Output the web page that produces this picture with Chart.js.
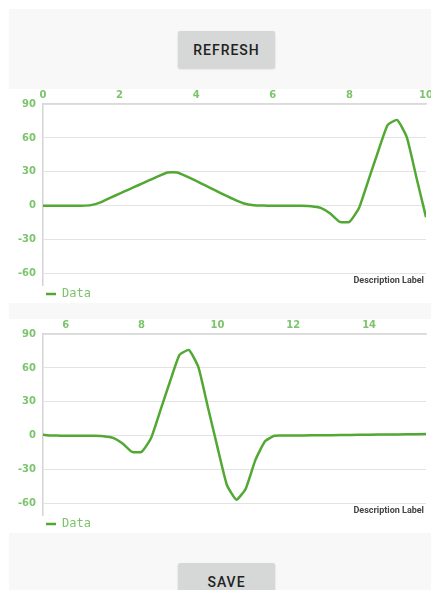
<!DOCTYPE html>
<html>
<head>
<meta charset="utf-8">
<script src="https://cdn.jsdelivr.net/npm/chart.js@4.4.1/dist/chart.umd.min.js"></script>
<style>
  html, body { margin: 0; padding: 0; background: #fff; width: 431px; height: 590px; overflow: hidden; }
  .panel { position: absolute; left: 9px; width: 422px; background: #f8f8f8; }
  .btn {
    position: absolute; left: 178px; width: 97px; height: 37px;
    background: #d6d7d7; border-radius: 2px;
    box-shadow: 0 1px 2px rgba(0,0,0,0.18);
    font: 500 14px Roboto, sans-serif; letter-spacing: 1px; color: #222;
    display: flex; align-items: center; justify-content: center;
  }
  .box { position: absolute; left: 0; width: 431px; }
</style>
</head>
<body>
<div class="panel" style="top:9px;height:80px"></div>
<div class="btn" style="top:31px">REFRESH</div>

<div class="box" style="top:89px;height:214px"><canvas id="chartTop"></canvas></div>

<div class="panel" style="top:303px;height:16px"></div>

<div class="box" style="top:319px;height:214px"><canvas id="chartBottom"></canvas></div>

<div class="panel" style="top:533px;height:60px"></div>
<div class="btn" style="top:563px">SAVE</div>

<script>
// dane wykresu (ten sam przebieg na obu wykresach, inne okno osi X)
const xValues = [0, 0.25, 0.5, 0.75, 1, 1.25, 1.5, 1.75, 2, 2.25, 2.5, 2.75, 3, 3.25, 3.5, 3.75,
  4, 4.25, 4.5, 4.75, 5, 5.25, 5.5, 5.75, 6, 6.25, 6.5, 6.75, 7, 7.25, 7.5, 7.75,
  8, 8.25, 8.5, 8.75, 9, 9.25, 9.5, 9.75, 10, 10.25, 10.5, 10.75, 11, 11.25, 11.5, 11.75,
  12, 12.5, 13, 13.5, 14, 14.5, 15, 15.5];
const yValues = [0, 0, 0, 0, 0.1, 0.6, 3, 7, 10.8, 14.6, 18.4, 22.2, 26, 29.5, 29.5, 26,
  22, 17.8, 13.6, 9.4, 5.4, 2.0, 0.5, 0.2, 0.1, 0.1, 0.1, 0, -0.3, -1.8, -6.8, -14.2,
  -14.2, -2, 23, 48, 71.5, 75.8, 60.5, 25, -10, -43.5, -56.5, -46.5, -21.5, -5, 0, 0.2,
  0.3, 0.4, 0.6, 0.8, 1.0, 1.1, 1.3, 1.5];

const yTicks = [-60, -30, 0, 30, 60, 90];
const xTicksTop = [0, 2, 4, 6, 8, 10];
const xTicksBottom = [6, 8, 10, 12, 14];
const xRangeTop = [0, 10];
const xRangeBottom = [5.4, 15.5];
const yRange = [-70, 90];

const lineColor = '#52a833';
const tickColor = '#7cc46c';

// napis "Description Label" w prawym dolnym rogu
const descriptionPlugin = {
  id: 'description',
  afterDraw(chart) {
    const ctx = chart.ctx;
    ctx.save();
    ctx.font = 'bold 9px Roboto';
    ctx.fillStyle = '#444';
    ctx.textAlign = 'right';
    ctx.textBaseline = 'middle';
    ctx.fillText('Description Label', chart.width - 7, chart.chartArea.bottom - 4);
    ctx.restore();
  }
};

function makeChart(id, xRange, xTicks) {
  const ctx = document.getElementById(id).getContext('2d');
  const points = xValues.map((x, i) => ({ x: x, y: yValues[i] }));
  return new Chart(ctx, {
    type: 'line',
    data: {
      datasets: [{
        label: 'Data',
        data: points,
        borderColor: lineColor,
        backgroundColor: lineColor,
        borderWidth: 2.5,
        pointRadius: 0,
        tension: 0.15,
        fill: false
      }]
    },
    options: {
      responsive: true,
      maintainAspectRatio: false,
      animation: false,
      layout: { padding: { left: 0, right: 5, top: 0, bottom: 0 } },
      scales: {
        x: {
          type: 'linear',
          position: 'top',
          min: xRange[0],
          max: xRange[1],
          afterBuildTicks: s => { s.ticks = xTicks.map(v => ({ value: v })); },
          afterFit: s => { s.height = 15; s.paddingLeft = 0; s.paddingRight = 0; },
          grid: { display: false, drawTicks: false },
          border: { display: true, color: '#dadada', width: 1.5 },
          ticks: { color: tickColor, font: { family: 'DejaVu Sans', size: 10, weight: 'bold' }, padding: 3, maxRotation: 0 }
        },
        y: {
          min: yRange[0],
          max: yRange[1],
          afterBuildTicks: s => { s.ticks = yTicks.map(v => ({ value: v })); },
          afterFit: s => { s.width = 43; },
          grid: { color: '#e3e3e3', lineWidth: 1, drawTicks: false },
          border: { display: true, color: '#d4d4d4', width: 1.5 },
          ticks: { color: tickColor, font: { family: 'DejaVu Sans', size: 10, weight: 'bold' }, padding: 7 }
        }
      },
      plugins: {
        legend: {
          position: 'bottom',
          align: 'start',
          fullSize: false,
          maxHeight: 18,
          labels: {
            color: tickColor,
            font: { family: 'DejaVu Sans Mono', size: 12 },
            usePointStyle: true,
            pointStyle: 'line',
            pointStyleWidth: 10,
            boxHeight: 3,
            padding: 3
          }
        },
        tooltip: { enabled: false }
      }
    },
    plugins: [descriptionPlugin]
  });
}

const topChart = makeChart('chartTop', xRangeTop, xTicksTop);
const bottomChart = makeChart('chartBottom', xRangeBottom, xTicksBottom);
</script>
</body>
</html>
